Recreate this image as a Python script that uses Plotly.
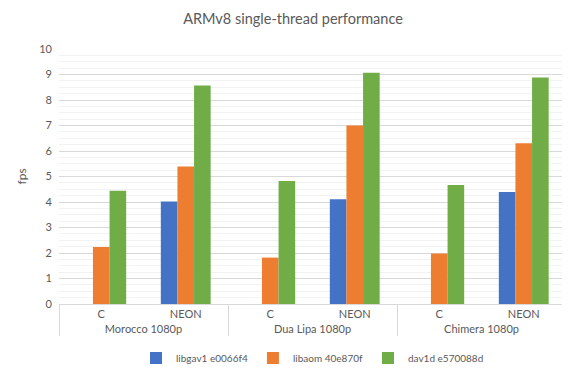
import plotly.graph_objects as go

groups = ["Morocco 1080p", "Morocco 1080p", "Dua Lipa 1080p", "Dua Lipa 1080p", "Chimera 1080p", "Chimera 1080p"]
impls = ["C", "NEON", "C", "NEON", "C", "NEON"]

libgav1 = [None, 4.02, None, 4.11, None, 4.39]
libaom = [2.24, 5.39, 1.82, 7.00, 1.98, 6.30]
dav1d = [4.44, 8.57, 4.82, 9.07, 4.67, 8.88]

series = [
    ("libgav1 e0066f4", libgav1, "#4472C4"),
    ("libaom 40e870f", libaom, "#ED7D31"),
    ("dav1d e570088d", dav1d, "#70AD47"),
]

fig = go.Figure()
for name, vals, color in series:
    fig.add_trace(go.Bar(x=[groups, impls], y=vals, name=name, marker_color=color,
                         marker_line_width=0))

font_fam = "Lato, Carlito, 'Liberation Sans', sans-serif"
fig.update_layout(
    width=570, height=377,
    margin=dict(l=51, r=12, t=41, b=73),
    paper_bgcolor="white", plot_bgcolor="white",
    font=dict(family=font_fam, color="#595959", size=11),
    title=dict(text="ARMv8 single-thread performance", x=0.5, xanchor="center",
               y=0.97, yanchor="middle", font=dict(size=14.5, color="#595959")),
    barmode="group", bargap=0.41, bargroupgap=0,
    showlegend=True,
    legend=dict(orientation="h", x=0.5, xanchor="center", y=-0.212, yanchor="middle",
                font=dict(size=10, color="#595959"), itemwidth=30, traceorder="normal"),
    xaxis=dict(type="multicategory", showline=True, linecolor="#D9D9D9", linewidth=1,
               showdividers=True, dividercolor="#D9D9D9", dividerwidth=1,
               ticks="outside", ticklen=5, tickcolor="rgba(0,0,0,0)",
               tickfont=dict(size=11, color="#595959"), automargin=False),
    yaxis=dict(range=[0, 10], dtick=1, showgrid=True, gridcolor="#D9D9D9", gridwidth=1,
               zeroline=False, showline=False, ticks="", automargin=False,
               ticklabelstandoff=6,
               tickfont=dict(size=11, color="#595959"),
               minor=dict(dtick=0.25, showgrid=True, gridcolor="#F2F2F2", gridwidth=1)),
    annotations=[dict(text="fps", xref="paper", yref="paper", x=-0.073, y=0.5,
                      xanchor="center", yanchor="middle", showarrow=False, textangle=-90,
                      font=dict(size=12, color="#595959"))],
)

fig.write_html("out.html")
